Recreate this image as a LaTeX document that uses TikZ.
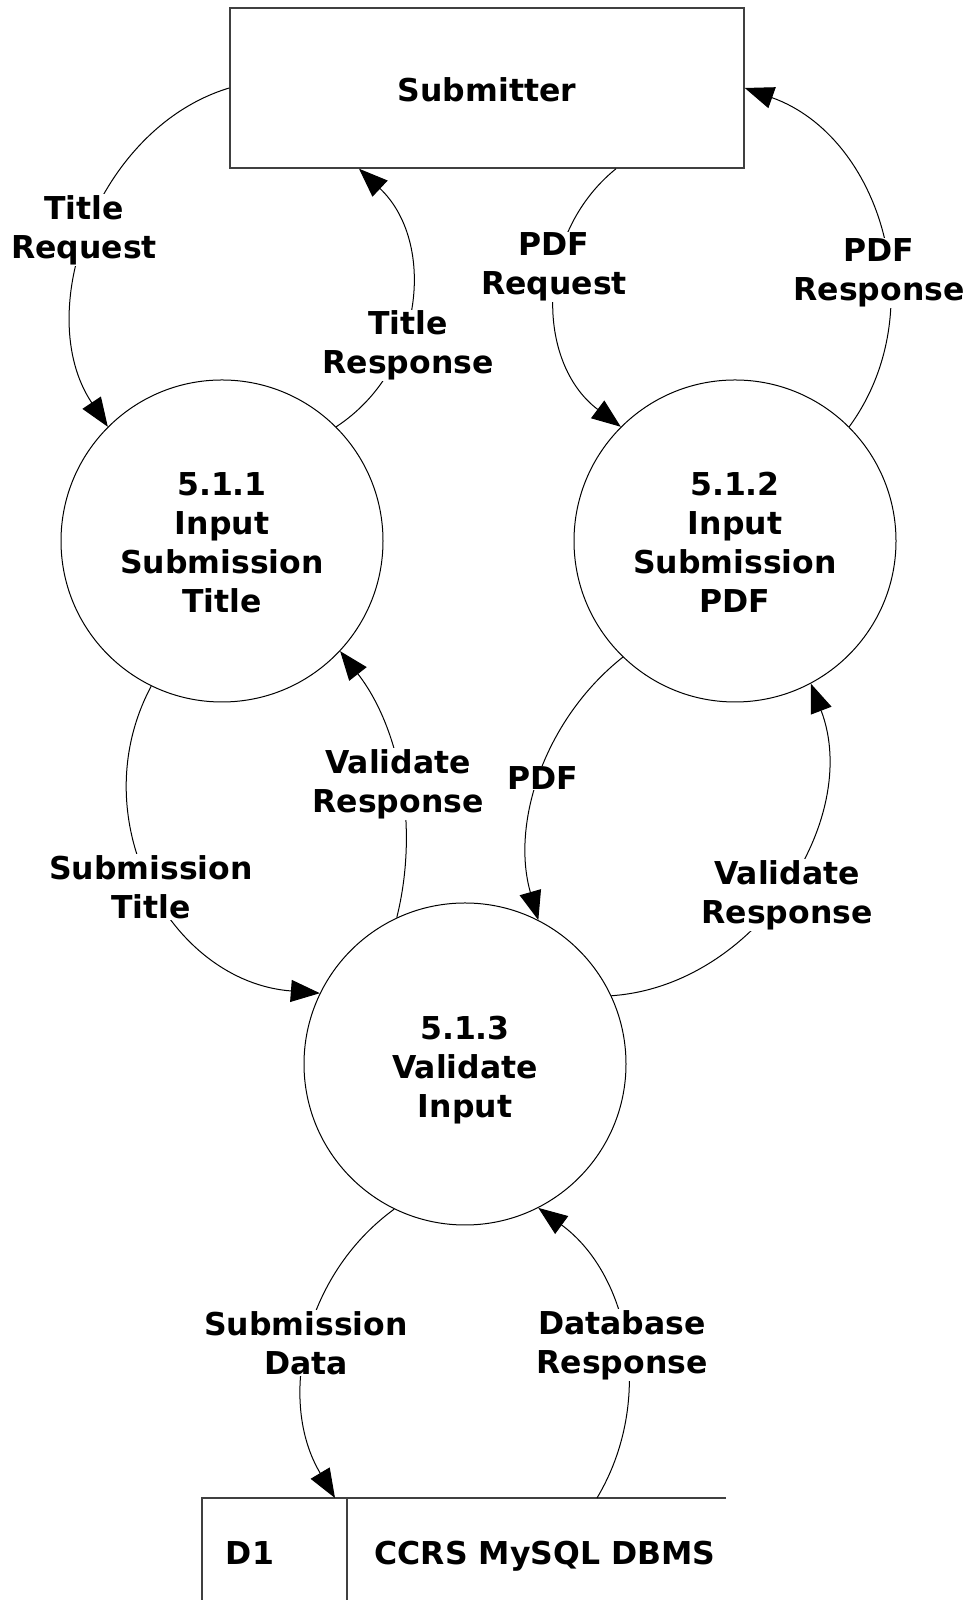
\documentclass[tikz,border=0pt]{standalone}
\usepackage{fontspec}
\setmainfont{DejaVu Sans}
\usetikzlibrary{arrows.meta}
\tikzset{
  txt/.style={font=\fontsize{31.5}{39}\selectfont\bfseries, align=center},
  proc/.style={circle, draw, line width=1pt, minimum size=322pt, inner sep=0pt, txt},
  ent/.style={rectangle, draw=black!75, line width=1.5pt, minimum width=514pt, minimum height=160pt, txt},
  lbl/.style={txt, fill=white, inner sep=1pt},
  plain/.style={txt, inner sep=0pt, text height=23pt, text depth=7pt},
  storeline/.style={draw=black!75, line width=1.5pt},
  flow/.style={line width=1pt, -{Triangle[length=29pt,width=22pt]}},
}
\newcommand{\lowertext}[2]{\raisebox{#1}[\height][\depth]{#2}}
\begin{document}
\begin{tikzpicture}[x=1pt,y=1pt]
\useasboundingbox (0,0) rectangle (971,1600);
% entities and processes
\node[ent] (S) at (487,1512) {\lowertext{-2pt}{Submitter}};
\node[proc] (A) at (222,1059) {\lowertext{-5pt}{\begin{tabular}{@{}c@{}}5.1.1\\Input\\Submission\\Title\end{tabular}}};
\node[proc] (B) at (735,1059) {\lowertext{-5pt}{\begin{tabular}{@{}c@{}}5.1.2\\Input\\Submission\\PDF\end{tabular}}};
\node[proc] (C) at (465,536) {\lowertext{-7pt}{\begin{tabular}{@{}c@{}}5.1.3\\Validate\\Input\end{tabular}}};
% data store
\draw[storeline] (726,102) -- (202,102) -- (202,0);
\draw[storeline] (347,102) -- (347,0);
\node[plain] (D1) at (250,43) {D1};
\node[plain] (DB) at (545,43) {CCRS MySQL DBMS};
\coordinate (st1) at (335,102);
\coordinate (st2) at (597,102);
\coordinate (s1) at ([xshift=-128pt]S.south);
\coordinate (s2) at ([xshift=129pt]S.south);
% flows
\draw[flow] (S.west) to[bend right=53.5, looseness=0.98] (A.135);
\draw[flow] (A.45) to[bend right=51.7, looseness=1.05] (s1);
\draw[flow] (s2) to[bend right=52, looseness=1.05] (B.135);
\draw[flow] (B.45) to[bend right=53.3, looseness=1.04] (S.east);
\draw[flow] (A.244) to[bend right=56.8, looseness=1.10] (C.154);
\draw[flow] (C.115) to[bend right=26, looseness=0.9] (A.317);
\draw[flow] (B.226) to[bend right=33.8, looseness=0.93] (C.63);
\draw[flow] (C.25) to[bend right=53.5, looseness=1.0] (B.298);
\draw[flow] (C.244) to[bend right=42.4, looseness=0.98] (st1);
\draw[flow] (st2) to[bend right=42.3, looseness=0.98] (C.297);
% labels
\node[lbl] (l1) at (84,1370) {Title\\Request};
\node[lbl] (l2) at (408,1254.5) {Title\\Response};
\node[lbl] (l3) at (554,1333) {PDF\\Request};
\node[lbl] (l4) at (879,1327) {PDF\\Response};
\node[lbl] (l5) at (151,713) {Submission\\Title};
\node[lbl] (l6) at (398,816) {Validate\\Response};
\node[lbl] (l7) at (543,822) {PDF};
\node[lbl] (l8) at (787,705) {Validate\\Response};
\node[lbl] (l9) at (306,257) {Submission\\Data};
\node[lbl] (l10) at (622,255) {Database\\Response};
\end{tikzpicture}
\end{document}
